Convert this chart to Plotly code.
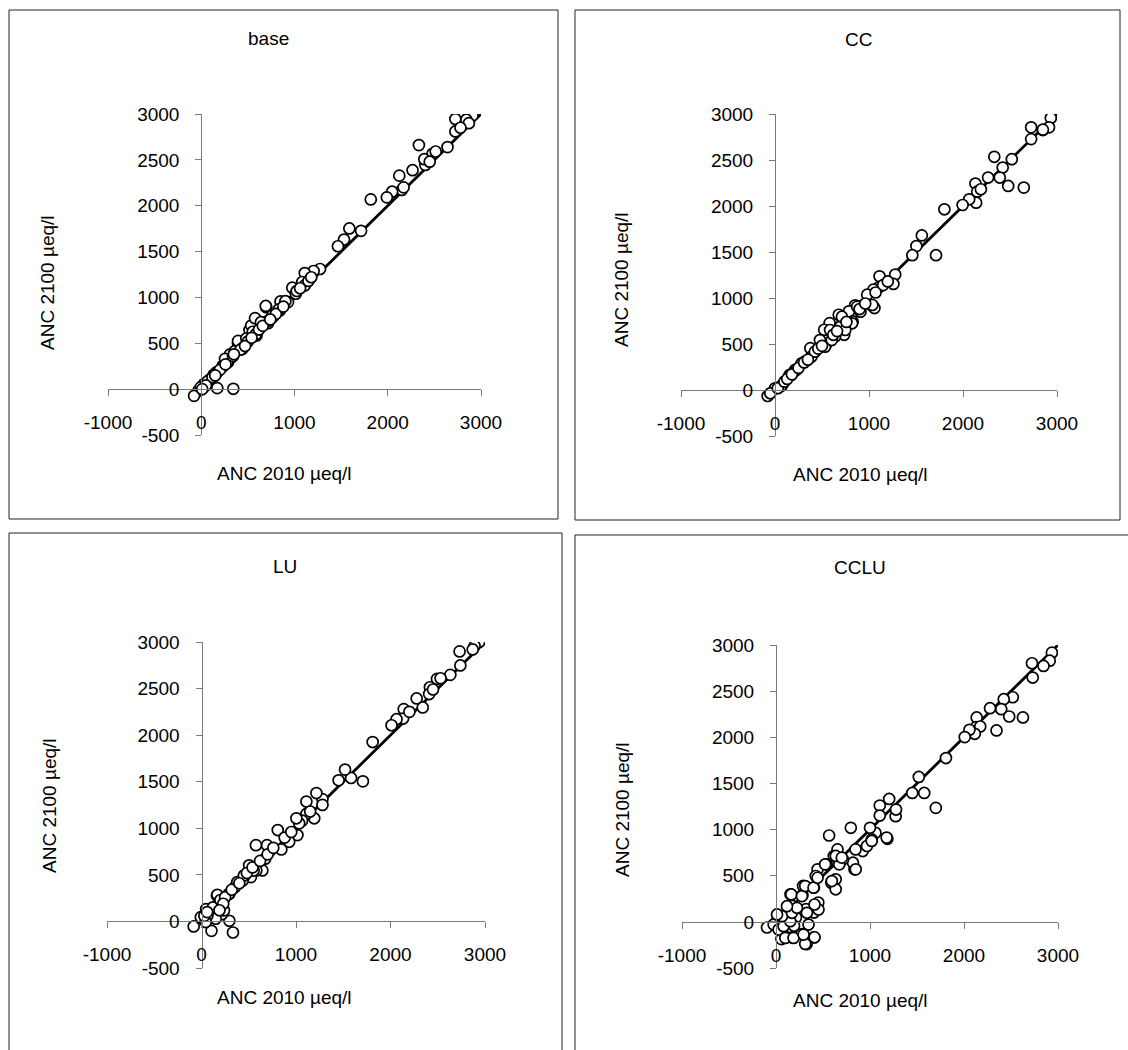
import plotly.graph_objects as go

# ANC (µeq/l) per lake: 2010 value vs. simulated 2100 value, four scenarios
scenarios = ["base", "CC", "LU", "CCLU"]

base_x = [2910, 2725, 2843, 2725, 2641, 2334, 2480, 2514, 2403, 2392, 2266, 2124, 2151, 2047, 1990,
          1818, 1714, 1588, 1531, 1466, 1274, 1205, 1110, 1083, 1110, 1014, 976, 1014, 930, 842,
          850, 697, 716, 765, 582, 643, 593, 517, 536, 478, 440, 394, 325, 287, 230, 161, 96, 38,
          0, -31, -77, 172, 344, 28, 87, 168, 231, 283, 308, 360, 395, 448, 483, 552, 577, 587,
          692, 710, 832, 902, 1024, 640, 762, 255, 133, 63, -7, 120, 200, 260, 340, 420, 500, 620,
          660, 800, 880, 1060, 2170, 2870, 2780, 2450, 1150, 1180, 50, 10, 150, 350, 470, 540, 740]
base_y = [2985, 2945, 2938, 2810, 2639, 2661, 2566, 2591, 2445, 2507, 2387, 2328, 2172, 2153, 2091,
          2069, 1726, 1752, 1631, 1558, 1310, 1288, 1266, 1168, 1131, 1077, 1106, 1040, 949, 858,
          956, 894, 719, 785, 766, 730, 584, 646, 693, 493, 438, 500, 347, 292, 255, 182, 102, 55,
          18, -18, -73, 11, 4, 56, 100, 181, 248, 304, 378, 415, 526, 452, 552, 626, 774, 600,
          907, 741, 870, 959, 1070, 730, 804, 330, 156, 81, 19, 130, 210, 270, 360, 430, 520, 650,
          690, 820, 900, 1100, 2200, 2900, 2850, 2480, 1180, 1220, 40, 0, 150, 380, 470, 560, 760]

cc_x = [2934, 2725, 2849, 2915, 2725, 2519, 2333, 2422, 2391, 2481, 2647, 2267, 2132, 2151, 2190,
        2140, 2066, 1996, 1802, 1713, 1562, 1504, 1461, 1279, 1260, 1112, 1105, 1047, 981, 1027,
        1058, 911, 853, 841, 787, 826, 678, 698, 736, 640, 581, 562, 523, 543, 426, 376, 283, 213,
        155, 78, 0, -78, -50, 65, 173, 227, 317, 388, 424, 532, 604, 586, 694, 712, 820, 874, 1036,
        910, 748, 478, 30, 100, 130, 180, 250, 310, 350, 460, 500, 620, 660, 760, 900, 960, 1150,
        1200, 1070, 2850]
cc_y = [2956, 2855, 2825, 2855, 2727, 2509, 2535, 2418, 2309, 2218, 2200, 2309, 2244, 2156, 2182,
        2036, 2073, 2011, 1964, 1465, 1680, 1564, 1465, 1255, 1153, 1236, 1116, 1091, 1036, 920,
        891, 909, 920, 855, 855, 745, 818, 691, 600, 582, 727, 545, 655, 491, 418, 455, 291, 218,
        164, 55, 18, -65, -36, 43, 163, 217, 308, 362, 417, 471, 543, 652, 688, 797, 725, 906, 924,
        851, 652, 543, 20, 90, 120, 170, 240, 300, 330, 450, 480, 600, 640, 740, 880, 940, 1140,
        1180, 1060, 2830]

lu_x = [2939, 2890, 2731, 2739, 2633, 2492, 2530, 2417, 2409, 2341, 2277, 2140, 2133, 2064, 2011,
        1811, 1708, 1583, 1519, 1451, 1280, 1280, 1216, 1193, 1110, 1110, 1064, 1034, 1004, 1015,
        928, 845, 807, 731, 693, 674, 644, 580, 576, 523, 458, 504, 436, 352, 295, 163, 170, 144,
        87, 11, -83, 106, 295, 333, 49, 220, 150, 168, 290, 378, 448, 552, 63, -7, 238, 45, 30, 120,
        200, 250, 320, 400, 480, 540, 620, 700, 760, 880, 950, 1150, 2870, 2200, 2450, 60, 230, 190]
lu_y = [3000, 2957, 2899, 2748, 2647, 2604, 2611, 2514, 2441, 2297, 2394, 2279, 2178, 2171, 2106,
        1926, 1504, 1540, 1630, 1515, 1313, 1251, 1378, 1107, 1287, 1154, 1082, 1053, 1107, 927,
        855, 772, 981, 765, 819, 674, 548, 548, 819, 476, 494, 602, 440, 368, 296, 278, 170, 79,
        43, 25, -54, -101, 7, -119, 133, 79, 29, 286, 296, 421, 493, 546, 64, 46, 118, -7, 60, 150,
        230, 260, 340, 410, 520, 580, 650, 720, 790, 900, 960, 1180, 2920, 2250, 2490, 100, 190, 120]

cclu_x = [2935, 2912, 2846, 2723, 2731, 2519, 2423, 2396, 2481, 2627, 2277, 2135, 2127, 2173, 2115,
          2058, 2008, 2346, 1808, 1700, 1577, 1519, 1450, 1273, 1277, 1204, 1104, 1104, 1185, 1058,
          1000, 1019, 923, 846, 796, 835, 819, 712, 654, 615, 673, 635, 565, 538, 588, 635, 442,
          423, 404, 450, 404, 404, 327, 269, 173, 88, 58, -96, 154, 173, 281, 288, 319, 212, 38,
          77, 192, 0, -25, 28, 99, 187, 311, 410, 293, 81, 152, 64, 170, 163, 276, 311, 399, 442,
          523, 636, 700, 848, 968, 1018, 1177, 594, 452, 329, 223, 410, 346, 117, 11]
cclu_y = [2917, 2830, 2773, 2802, 2647, 2434, 2413, 2305, 2225, 2215, 2315, 2215, 2110, 2117, 2038,
          2081, 2002, 2074, 1775, 1235, 1397, 1570, 1397, 1145, 1217, 1332, 1260, 1152, 900, 965,
          1019, 893, 767, 785, 1019, 569, 641, 677, 785, 713, 623, 461, 936, 623, 425, 353, 569,
          497, 371, 209, 101, -169, -241, -133, -169, -151, -187, -61, 299, 173, 288, 389, 137, 47,
          65, -43, -43, -7, -29, -83, -174, -174, -239, -167, -138, -47, 7, 62, 98, 297, 279, 388,
          370, 478, 623, 714, 696, 569, 822, 877, 913, 442, 134, 98, 152, 188, -29, 170, 80]

# 1:1 reference line
one_to_one = [0, 3000]

x_range = [-1000, 3000]
y_range = [-500, 3000]
x_ticks = [-1000, 0, 1000, 2000, 3000]
y_ticks = [-500, 0, 500, 1000, 1500, 2000, 2500, 3000]

x_title = "ANC 2010 µeq/l"
y_title = "ANC 2100 µeq/l"

W, H = 1128, 1050
FONT = "Arial, 'Liberation Sans', sans-serif"
FONT_SIZE = 19
AXIS_COLOR = "#7a7a7a"

# plot-area pixel boxes (left, right, top, bottom) for each panel
plot_px = [
    (108, 481, 114, 435),
    (681, 1057, 114, 436),
    (107, 485, 642, 968),
    (682, 1058, 645, 968),
]
# frame rectangles around each panel (pixels); lower frames run past the page edge
frame_px = [
    (9, 558, 10, 519),
    (575, 1120, 10, 520),
    (9, 562, 533, 1070),
    (575, 1150, 535, 1070),
]
# title / axis-title anchor points (pixels)
title_px = [(268, 38), (858, 39), (285, 566), (860, 567)]
ytitle_px = [(47, 283), (622, 280), (49, 806), (622, 810)]
xtitle_px = [(284, 474), (860, 475), (284, 997), (860, 1000)]

data = [(base_x, base_y), (cc_x, cc_y), (lu_x, lu_y), (cclu_x, cclu_y)]


def px_x(p):
    return p / W


def px_y(p):
    return 1 - p / H


fig = go.Figure()
annotations = []
shapes = []

for i, name in enumerate(scenarios):
    sfx = "" if i == 0 else str(i + 1)
    xa, ya = "x" + sfx, "y" + sfx
    left, right, top, bottom = plot_px[i]
    xs, ys = data[i]

    fig.add_trace(go.Scatter(
        x=one_to_one, y=one_to_one, mode="lines", xaxis=xa, yaxis=ya,
        line=dict(color="black", width=2.8), hoverinfo="skip", showlegend=False))
    fig.add_trace(go.Scatter(
        x=xs, y=ys, mode="markers", xaxis=xa, yaxis=ya, name=name, showlegend=False,
        marker=dict(symbol="circle", size=11, color="white",
                    line=dict(color="black", width=1.7))))

    # axes cross at zero
    x_dom = [px_x(left), px_x(right)]
    y_dom = [px_y(bottom), px_y(top)]
    zero_x_px = left + (0 - x_range[0]) / (x_range[1] - x_range[0]) * (right - left)
    zero_y_px = bottom - (0 - y_range[0]) / (y_range[1] - y_range[0]) * (bottom - top)

    common = dict(showgrid=False, zeroline=False, showline=True, linecolor=AXIS_COLOR,
                  linewidth=1, ticks="outside", ticklen=6, tickwidth=1, tickcolor=AXIS_COLOR,
                  tickfont=dict(family=FONT, size=FONT_SIZE, color="black"), fixedrange=True,
                  automargin=False)
    fig.layout["xaxis" + sfx] = dict(
        common, domain=x_dom, range=x_range, tickvals=x_ticks, ticktext=[str(v) for v in x_ticks],
        anchor="free", position=px_y(zero_y_px), ticklabelstandoff=10)
    fig.layout["yaxis" + sfx] = dict(
        common, domain=y_dom, range=y_range, tickvals=y_ticks, ticktext=[str(v) for v in y_ticks],
        anchor="free", position=px_x(zero_x_px), ticklabelstandoff=12)

    fl, fr, ft, fb = frame_px[i]
    shapes.append(dict(type="rect", xref="paper", yref="paper",
                       x0=px_x(fl), x1=px_x(fr), y0=px_y(fb), y1=px_y(ft),
                       line=dict(color="#222222", width=1), fillcolor="rgba(0,0,0,0)"))

    tx, ty = title_px[i]
    annotations.append(dict(text=name, x=px_x(tx), y=px_y(ty), xref="paper", yref="paper",
                            showarrow=False, xanchor="center", yanchor="middle",
                            font=dict(family=FONT, size=FONT_SIZE, color="black")))
    yx, yy = ytitle_px[i]
    annotations.append(dict(text=y_title, x=px_x(yx), y=px_y(yy), xref="paper", yref="paper",
                            showarrow=False, xanchor="center", yanchor="middle", textangle=-90,
                            font=dict(family=FONT, size=FONT_SIZE, color="black")))
    xx, xy = xtitle_px[i]
    annotations.append(dict(text=x_title, x=px_x(xx), y=px_y(xy), xref="paper", yref="paper",
                            showarrow=False, xanchor="center", yanchor="middle",
                            font=dict(family=FONT, size=FONT_SIZE, color="black")))

fig.update_layout(
    width=W, height=H, autosize=False,
    margin=dict(l=0, r=0, t=0, b=0, pad=0, autoexpand=False),
    paper_bgcolor="white", plot_bgcolor="white",
    annotations=annotations, shapes=shapes,
    font=dict(family=FONT, size=FONT_SIZE, color="black"),
)

# page body without default margin so the figure sits at the window origin
fig.write_html("out.html", config={"displayModeBar": False},
               post_script="document.body.style.margin='0';")
